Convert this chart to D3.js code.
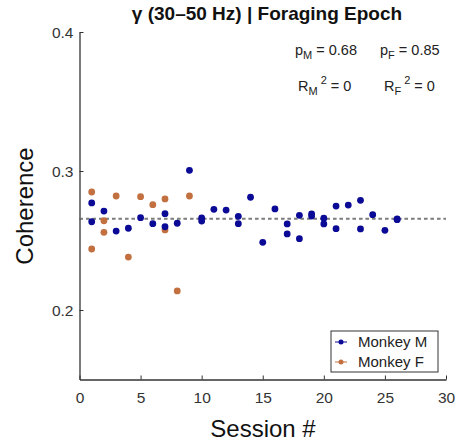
<!DOCTYPE html>
<html><head><meta charset="utf-8">
<script src="https://cdn.jsdelivr.net/npm/d3@7"></script>
<style>body{margin:0;background:#fff}svg{display:block}</style>
</head><body><svg id="c" width="457" height="444"></svg>
<script>
const sessionsM = [1,1,2,3,4,5,6,7,7,8,9,10,10,11,12,13,13,14,15,16,17,17,18,18,19,19,20,20,21,21,22,23,23,24,25,26,26];
const coherenceM = [0.277,0.2635,0.2712,0.2568,0.2588,0.2664,0.2621,0.2693,0.2599,0.2624,0.3005,0.2662,0.264,0.2724,0.2719,0.2674,0.2621,0.2811,0.2487,0.2727,0.2619,0.2547,0.2681,0.2513,0.2691,0.2676,0.266,0.2619,0.2748,0.2585,0.2755,0.2789,0.2583,0.2686,0.2573,0.2655,0.265];
const sessionsF = [1,1,2,2,3,4,5,6,7,7,8,9];
const coherenceF = [0.2849,0.2439,0.2642,0.2559,0.282,0.2381,0.2815,0.2758,0.2799,0.2576,0.2137,0.282];
const fitLevels = [0.2655, 0.2660];
const xTicks = [0,5,10,15,20,25,30];
const yTicks = [0.2,0.3,0.4];
const seriesNames = ["Monkey M","Monkey F"];
const colors = ["#0a0a96","#c27040"];

const svg = d3.select("#c");
const L = 79.5, T = 32, R = 446, B = 379.5;
const x = d3.scaleLinear().domain([0,30]).range([L,R]);
const y = d3.scaleLinear().domain([0.15,0.4]).range([B,T]);
const font = "Liberation Sans, Arial, sans-serif";

// axes
const xa = svg.append("g").attr("transform",`translate(0,${B})`)
  .call(d3.axisBottom(x).tickValues(xTicks).tickSizeInner(-4).tickSizeOuter(0).tickPadding(10));
const ya = svg.append("g").attr("transform",`translate(${L},0)`)
  .call(d3.axisLeft(y).tickValues(yTicks).tickFormat(d3.format(".1f")).tickSizeInner(-4).tickSizeOuter(0).tickPadding(6));
[xa,ya].forEach(a=>{
  a.selectAll("path").attr("stroke","#333").attr("stroke-width",1.3);
  a.selectAll("line").attr("stroke","#333");
  a.selectAll("text").attr("font-family",font).attr("font-size",15.5).attr("fill","#333");
});
xa.selectAll("text").attr("dy","0.85em");
ya.selectAll("text").attr("dy","0.35em");

// fit lines
svg.append("g").selectAll("line").data(fitLevels).join("line")
  .attr("x1",x(0)).attr("x2",x(30)).attr("y1",d=>y(d)).attr("y2",d=>y(d))
  .attr("stroke",(d,i)=>i===0?"#333":"#777").attr("stroke-width",1.1).attr("stroke-dasharray","3.5,3");

// points
const ptsF = sessionsF.map((s,i)=>({s,v:coherenceF[i]}));
const ptsM = sessionsM.map((s,i)=>({s,v:coherenceM[i]}));
svg.append("g").selectAll("circle").data(ptsF).join("circle")
  .attr("cx",d=>x(d.s)).attr("cy",d=>y(d.v)).attr("r",3.4).attr("fill",colors[1]);
svg.append("g").selectAll("circle").data(ptsM).join("circle")
  .attr("cx",d=>x(d.s)).attr("cy",d=>y(d.v)).attr("r",3.4).attr("fill",colors[0]);

// title
svg.append("text").attr("x",267).attr("y",20).attr("text-anchor","middle")
  .attr("font-family",font).attr("font-weight","bold").attr("font-size",19).attr("fill","#111")
  .text("γ (30–50 Hz) | Foraging Epoch");

// annotations
function sub(g, xx, yy, base, subs, sup, rest){
  const t = g.append("text").attr("x",xx).attr("y",yy).attr("font-family",font).attr("font-size",14.5).attr("fill","#222");
  t.append("tspan").text(base);
  t.append("tspan").attr("font-size",11).attr("dy",4).text(subs);
  if (sup){ t.append("tspan").attr("font-size",11).attr("dy",-11).attr("dx",3).text(sup); t.append("tspan").attr("dy",7).text(rest); }
  else { t.append("tspan").attr("dy",-4).text(rest); }
}
const ann = svg.append("g");
sub(ann, 295, 55, "p", "M", null, " = 0.68");
sub(ann, 380, 55, "p", "F", null, " = 0.85");
sub(ann, 298, 91, "R", "M", "2", " = 0");
sub(ann, 384, 91, "R", "F", "2", " = 0");

// axis labels
svg.append("text").attr("x",263).attr("y",437).attr("text-anchor","middle")
  .attr("font-family",font).attr("font-size",24).attr("fill","#111").text("Session #");
svg.append("text").attr("transform","translate(33,206) rotate(-90)").attr("text-anchor","middle")
  .attr("font-family",font).attr("font-size",24).attr("fill","#111").text("Coherence");

// legend
const lg = svg.append("g");
lg.append("rect").attr("x",331).attr("y",331).attr("width",107).attr("height",41)
  .attr("fill","#fff").attr("stroke","#333").attr("stroke-width",1);
seriesNames.forEach((n,i)=>{
  const yy = 342 + i*20;
  lg.append("line").attr("x1",335).attr("x2",347).attr("y1",yy).attr("y2",yy).attr("stroke",colors[i]).attr("stroke-width",1);
  lg.append("circle").attr("cx",341).attr("cy",yy).attr("r",2.5).attr("fill",colors[i]);
  lg.append("text").attr("x",358).attr("y",yy).attr("dy","0.35em").attr("font-family",font).attr("font-size",15).attr("fill","#222").text(n);
});
</script></body></html>
